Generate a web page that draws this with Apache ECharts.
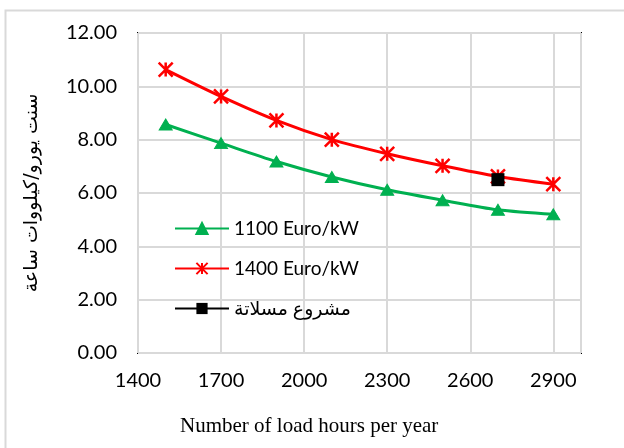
<!DOCTYPE html>
<html><head><meta charset="utf-8">
<script src="https://cdn.jsdelivr.net/npm/echarts@6/dist/echarts.min.js"></script>
<style>html,body{margin:0;padding:0;background:#fff}#c{width:624px;height:448px}</style>
</head><body><div id="c"></div>
<script>
const hours = [1500, 1700, 1900, 2100, 2300, 2500, 2700, 2900];
const cost1100 = [8.57, 7.87, 7.18, 6.60, 6.12, 5.73, 5.37, 5.20];
const cost1400 = [10.63, 9.62, 8.72, 8.00, 7.47, 7.02, 6.62, 6.33];
const projectX = [2700];
const projectY = [6.50];
const seriesNames = ['1100 Euro/kW', '1400 Euro/kW', 'مشروع مسلاتة'];
const xAxisTitle = 'Number of load hours per year';
const yAxisTitle = 'سنت يورو/كيلووات ساعة';

const pair = (xs, ys) => xs.map((x, i) => [x, ys[i]]);
const starPath = 'path://M5,0 L5,10 M0,0 L10,10 M0,10 L10,0';
const font = 'Lato, "DejaVu Sans", sans-serif';

const chart = echarts.init(document.getElementById('c'), null, {renderer: 'canvas'});
chart.setOption({
  animation: false,
  backgroundColor: '#fff',
  grid: {left: 138, top: 33, right: 43, bottom: 95, show: true, borderColor: '#000', borderWidth: 2, backgroundColor: 'transparent'},
  xAxis: {
    type: 'value', min: 1400, max: 3000, interval: 300,
    axisLine: {show: false}, axisTick: {show: false},
    splitLine: {show: true, lineStyle: {color: '#d9d9d9', width: 2}},
    axisLabel: {showMaxLabel: false, margin: 18, color: '#000', fontSize: 20, fontFamily: font, formatter: v => String(v)}
  },
  yAxis: {
    type: 'value', min: 0, max: 12, interval: 2,
    axisLine: {show: false}, axisTick: {show: false},
    splitLine: {show: true, lineStyle: {color: '#d9d9d9', width: 2}},
    axisLabel: {margin: 21, color: '#000', fontSize: 20, fontFamily: font, formatter: v => v.toFixed(2)},
    name: yAxisTitle, nameLocation: 'middle', nameGap: 96,
    nameTextStyle: {color: '#000', fontSize: 19, fontFamily: '"DejaVu Sans", sans-serif'}
  },
  legend: {
    orient: 'vertical', left: 174, top: 218, padding: 0, itemWidth: 54, itemHeight: 14, itemGap: 19,
    data: seriesNames,
    textStyle: {color: '#000', fontSize: 19, lineHeight: 21, fontFamily: font}
  },
  graphic: [
    {type: 'rect', shape: {x: 5.5, y: 10.5, width: 800, height: 600}, style: {fill: 'none', stroke: '#d9d9d9', lineWidth: 2}, silent: true, z: -1},
    {type: 'text', left: 180, top: 416, style: {text: xAxisTitle, fill: '#000', font: '21px "Liberation Serif", serif'}}
  ],
  series: [
    {name: seriesNames[0], type: 'line', smooth: 0.3, data: pair(hours, cost1100),
     symbol: 'triangle', symbolSize: [13, 11],
     lineStyle: {color: '#00b050', width: 3}, itemStyle: {color: '#00b050', borderColor: '#00b050', borderWidth: 1}},
    {name: seriesNames[1], type: 'line', smooth: 0.3, data: pair(hours, cost1400),
     symbol: starPath, symbolSize: 14,
     lineStyle: {color: '#ff0000', width: 3}, itemStyle: {color: '#ff0000', borderColor: '#ff0000', borderWidth: 2.5}},
    {name: seriesNames[2], type: 'line', data: pair(projectX, projectY),
     symbol: 'rect', symbolSize: 13,
     lineStyle: {color: '#000', width: 3}, itemStyle: {color: '#000'}, z: 5}
  ]
});
</script></body></html>
